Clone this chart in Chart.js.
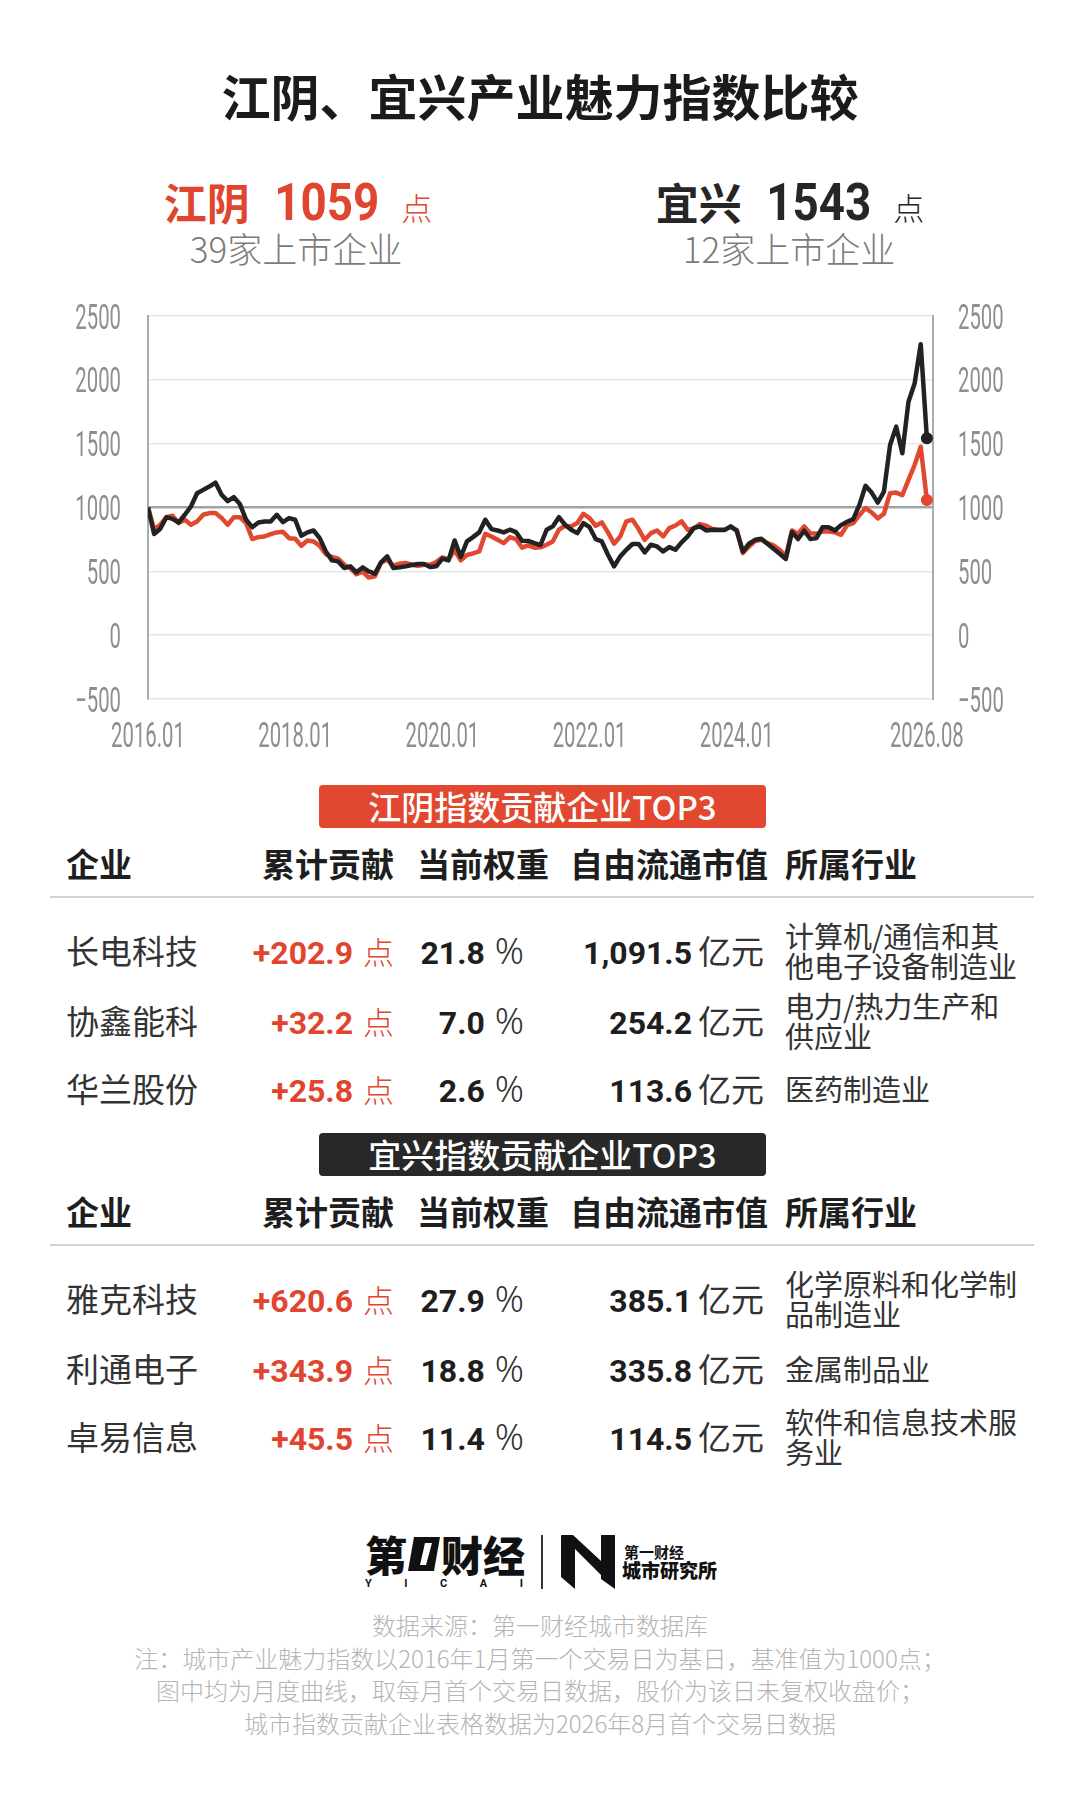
<!DOCTYPE html>
<html lang="zh-CN">
<head>
<meta charset="utf-8">
<title>江阴、宜兴产业魅力指数比较</title>
<script src="https://cdn.jsdelivr.net/npm/chart.js@4.4.1/dist/chart.umd.min.js"></script>
<style>
    html, body { margin: 0; padding: 0; background: #fff; }
    body {
        width: 1080px; height: 1816px; position: relative; overflow: hidden;
        font-family: "Noto Sans CJK SC", "Noto Sans", sans-serif; color: #222;
    }
    .abs { position: absolute; white-space: nowrap; }
    #title { left: 0; width: 1080px; top: 68px; text-align: center; font-size: 49px; line-height: 54px; font-weight: 700; color: #1b1b1b; }
    .head { display: flex; justify-content: center; align-items: baseline; top: 170px; height: 56px; }
    .head .city { font-size: 43px; font-weight: 700; }
    .head .big { display: inline-block; transform: scaleX(0.88); font-family: Roboto, sans-serif; font-size: 52px; font-weight: 700; margin: 0 15px 0 17px; }
    .head .pt { font-size: 31px; font-weight: 300; }
    .sub { top: 228px; font-size: 35px; line-height: 40px; font-weight: 300; color: #7b7b7b; text-align: center; }
    #chartBox { position: absolute; left: 0; top: 290px; width: 1080px; height: 470px; }
    .banner { left: 319px; width: 447px; height: 43px; border-radius: 4px; color: #fff; text-align: center; font-size: 33px; line-height: 43px; font-weight: 500; }
    .th { font-size: 33px; line-height: 40px; font-weight: 700; color: #1e1e1e; }
    .sep { left: 50px; width: 984px; height: 2px; background: #d2d2d2; }
    .cell { font-size: 33px; line-height: 40px; color: #333; }
    .num { font-family: Roboto, "Liberation Sans", sans-serif; font-weight: 700; font-size: 32px; color: #1e1e1e; }
    .red { color: #e0452f; }
    .unit { font-weight: 300; font-size: 31px; margin-left: 10px; }
    .pct { font-family: "Noto Sans", sans-serif; font-weight: 300; font-size: 36px; margin-left: 10px; color: #333; }
    .yi { font-size: 33px; margin-left: 6px; color: #333; }
    .ind { font-size: 29px; line-height: 30px; color: #333; white-space: nowrap; }
    .foot { left: 0; width: 1080px; text-align: center; font-size: 24px; line-height: 30px; font-weight: 300; color: #b5b5b5; }
</style>
</head>
<body>

<div id="title" class="abs">江阴、宜兴产业魅力指数比较</div>

<div class="abs head" style="left:0; width:596px; color:#e0452f;">
    <span class="city">江阴</span><span class="big">1059</span><span class="pt">点</span>
</div>
<div class="abs sub" style="left:0; width:592px;">39家上市企业</div>

<div class="abs head" style="left:500px; width:580px; color:#262626;">
    <span class="city">宜兴</span><span class="big">1543</span><span class="pt">点</span>
</div>
<div class="abs sub" style="left:500px; width:578px;">12家上市企业</div>

<div id="chartBox"><canvas id="indexChart" width="1080" height="470"></canvas></div>

<div id="tables"></div>

<!-- logos -->
<div class="abs" style="left:365px; top:1532px; height:44px; display:flex; align-items:center; font-size:42px; font-weight:900; color:#111; line-height:44px;">
    <span>第</span>
    <svg width="32" height="38" viewBox="0 0 32 38" style="margin:0 1px;"><polygon points="6,2 32,2 26,36 0,36" fill="#111"/><polygon points="17,8 24,8 18,30 12,30" fill="#fff"/></svg>
    <span>财经</span>
</div>
<div class="abs" style="left:365px; top:1578px; width:158px; display:flex; justify-content:space-between; font-family:Roboto, sans-serif; font-size:11px; font-weight:700; color:#111; line-height:12px;">
    <span>Y</span><span>I</span><span>C</span><span>A</span><span>I</span>
</div>
<div class="abs" style="left:541px; top:1535px; width:2px; height:54px; background:#333;"></div>
<svg class="abs" style="left:561px; top:1535px;" width="54" height="54" viewBox="0 0 54 54">
    <polygon points="0,0 14,10 14,54 0,42" fill="#111"/>
    <polygon points="0,0 12,0 40,26 40,40" fill="#111"/>
    <polygon points="40,0 54,0 54,54 40,44" fill="#111"/>
</svg>
<div class="abs" style="left:624px; top:1543px; font-size:15px; line-height:18px; font-weight:700; color:#111;">第一财经</div>
<div class="abs" style="left:622px; top:1559px; font-size:19px; line-height:22px; font-weight:900; color:#111;">城市研究所</div>

<div class="abs foot" style="top:1610px;">数据来源：第一财经城市数据库</div>
<div class="abs foot" style="top:1643px;">注：城市产业魅力指数以2016年1月第一个交易日为基日，基准值为1000点；</div>
<div class="abs foot" style="top:1675px;">图中均为月度曲线，取每月首个交易日数据，股价为该日未复权收盘价；</div>
<div class="abs foot" style="top:1708px;">城市指数贡献企业表格数据为2026年8月首个交易日数据</div>

<script>
// Monthly index, 2016.01 .. 2026.08 (first trading day of each month)
const jiangyinIndex = [
    1000, 830, 865, 924, 935, 878, 904, 865, 891, 943, 956, 956,
    917, 865, 924, 924, 878, 753, 768, 773, 792, 805, 810, 760,
    755, 700, 742, 734, 700, 635, 612, 599, 552, 523, 477, 497,
    451, 461, 570, 591, 544, 560, 565, 552, 544, 552, 552, 573,
    609, 596, 664, 586, 628, 641, 656, 794, 773, 747, 721, 768,
    753, 686, 704, 685, 688, 708, 734, 826, 857, 852, 878, 951,
    917, 857, 883, 805, 716, 773, 891, 904, 831, 747, 799, 820,
    773, 839, 859, 891, 826, 836, 870, 857, 831, 826, 826, 847,
    823, 643, 695, 737, 747, 721, 703, 669, 617, 820, 794, 852,
    799, 794, 812, 812, 805, 786, 862, 878, 940, 995, 961, 914,
    951, 1112, 1117, 1097, 1216, 1333, 1476, 1059
];
const yixingIndex = [
    1000, 792, 833, 924, 911, 883, 943, 1008, 1112, 1138, 1164, 1195,
    1100, 1050, 1081, 1025, 904, 846, 883, 891, 891, 943, 885, 917,
    904, 779, 805, 820, 760, 656, 586, 578, 526, 539, 492, 531,
    500, 482, 570, 617, 526, 531, 539, 550, 557, 557, 534, 539,
    599, 586, 742, 612, 734, 768, 805, 904, 831, 820, 805, 826,
    807, 740, 738, 721, 706, 826, 852, 924, 865, 826, 799, 878,
    846, 753, 734, 630, 539, 617, 669, 714, 714, 648, 708, 695,
    656, 690, 669, 727, 773, 839, 852, 820, 826, 823, 823, 852,
    818, 655, 716, 747, 755, 716, 677, 638, 597, 808, 753, 818,
    753, 760, 846, 846, 820, 862, 888, 909, 1021, 1170, 1117, 1039,
    1125, 1490, 1633, 1425, 1828, 1971, 2279, 1543
];

// Axis ticks
const xTickIndex = [0, 24, 48, 72, 96, 127];
const xTickLabels = ['2016.01', '2018.01', '2020.01', '2022.01', '2024.01', '2026.08'];
const yTickValues = [-500, 0, 500, 1000, 1500, 2000, 2500];
const yTickLabels = ['\u2212500', '0', '500', '1000', '1500', '2000', '2500'];

// Contribution tables
const jyCompanies = ['长电科技', '协鑫能科', '华兰股份'];
const jyContrib = ['+202.9', '+32.2', '+25.8'];
const jyWeight = ['21.8', '7.0', '2.6'];
const jyCap = ['1,091.5', '254.2', '113.6'];
const jyIndustry = [['计算机/通信和其', '他电子设备制造业'], ['电力/热力生产和', '供应业'], ['医药制造业']];

const yxCompanies = ['雅克科技', '利通电子', '卓易信息'];
const yxContrib = ['+620.6', '+343.9', '+45.5'];
const yxWeight = ['27.9', '18.8', '11.4'];
const yxCap = ['385.1', '335.8', '114.5'];
const yxIndustry = [['化学原料和化学制', '品制造业'], ['金属制品业'], ['软件和信息技术服', '务业']];

const RED = '#e2472f';
const BLACK = '#222222';
const TICK_COLOR = '#8e8e8e';
const TICK_SQUEEZE = 0.58;

document.addEventListener('DOMContentLoaded', function() {
    buildTable(785, '江阴指数贡献企业TOP3', '#e2472f', jyCompanies, jyContrib, jyWeight, jyCap, jyIndustry);
    buildTable(1133, '宜兴指数贡献企业TOP3', '#282828', yxCompanies, yxContrib, yxWeight, yxCap, yxIndustry);
    initializeIndexChart();
});

// Tables under the chart
function buildTable(top, title, color, names, contrib, weight, cap, industry) {
    const box = document.getElementById('tables');
    let html = '';
    html += `<div class="abs banner" style="top:${top}px; background:${color};">${title}</div>`;

    const hy = top + 78 - 20;
    html += `<div class="abs th" style="left:66px; top:${hy}px;">企业</div>`;
    html += `<div class="abs th" style="right:${1080 - 394}px; top:${hy}px;">累计贡献</div>`;
    html += `<div class="abs th" style="left:417px; top:${hy}px;">当前权重</div>`;
    html += `<div class="abs th" style="right:${1080 - 768}px; top:${hy}px;">自由流通市值</div>`;
    html += `<div class="abs th" style="left:785px; top:${hy}px;">所属行业</div>`;
    html += `<div class="abs sep" style="top:${top + 111}px;"></div>`;

    const rowOffsets = [165, 235, 303];
    names.forEach((name, i) => {
        const cy = top + rowOffsets[i];
        const ry = cy - 20;
        html += `<div class="abs cell" style="left:66px; top:${ry}px;">${name}</div>`;
        html += `<div class="abs cell" style="right:${1080 - 394}px; top:${ry}px;"><span class="num red">${contrib[i]}</span><span class="unit red">点</span></div>`;
        html += `<div class="abs cell" style="right:${1080 - 524}px; top:${ry}px;"><span class="num">${weight[i]}</span><span class="pct">%</span></div>`;
        html += `<div class="abs cell" style="right:${1080 - 764}px; top:${ry}px;"><span class="num">${cap[i]}</span><span class="yi">亿元</span></div>`;
        const lines = industry[i];
        const iy = cy - lines.length * 15;
        html += `<div class="abs ind" style="left:785px; top:${iy}px;">${lines.join('<br>')}</div>`;
    });
    box.insertAdjacentHTML('beforeend', html);
}

// Draw condensed tick text
function drawNarrow(ctx, text, x, y, align) {
    ctx.save();
    ctx.translate(x, y);
    ctx.scale(TICK_SQUEEZE, 1);
    ctx.textAlign = align;
    ctx.fillText(text, 0, 0);
    ctx.restore();
}

const tickLabelPlugin = {
    id: 'tickLabels',
    afterDraw(chart) {
        const ctx = chart.ctx;
        const yl = chart.scales.y;
        const yr = chart.scales.y1;
        const xs = chart.scales.x;
        ctx.save();
        ctx.fillStyle = TICK_COLOR;
        ctx.font = '35px Roboto';
        ctx.textBaseline = 'alphabetic';
        yTickValues.forEach((v, k) => {
            const py = yl.getPixelForValue(v) + 12.5;
            drawNarrow(ctx, yTickLabels[k], yl.right - 27, py, 'right');
            drawNarrow(ctx, yTickLabels[k], yr.left + 25, py, 'left');
        });
        xTickIndex.forEach((v, k) => {
            drawNarrow(ctx, xTickLabels[k], xs.getPixelForValue(v), yl.bottom + 48, 'center');
        });
        ctx.restore();
    }
};

function toPoints(values) {
    return values.map((v, i) => ({ x: i, y: v }));
}

// Main line chart
function initializeIndexChart() {
    const ctx = document.getElementById('indexChart').getContext('2d');
    const lastIndex = jiangyinIndex.length - 1;
    const endDot = c => (c.dataIndex === lastIndex ? 6 : 0);

    new Chart(ctx, {
        type: 'line',
        data: {
            datasets: [
                {
                    label: '宜兴',
                    data: toPoints(yixingIndex),
                    borderColor: BLACK,
                    backgroundColor: BLACK,
                    borderWidth: 4.5,
                    pointRadius: endDot,
                    pointBorderWidth: 0,
                    pointBackgroundColor: BLACK,
                    tension: 0,
                    borderJoinStyle: 'round',
                    order: 0,
                    yAxisID: 'y'
                },
                {
                    label: '江阴',
                    data: toPoints(jiangyinIndex),
                    borderColor: RED,
                    backgroundColor: RED,
                    borderWidth: 4.5,
                    pointRadius: endDot,
                    pointBorderWidth: 0,
                    pointBackgroundColor: RED,
                    tension: 0,
                    borderJoinStyle: 'round',
                    order: 1,
                    yAxisID: 'y'
                }
            ]
        },
        options: {
            responsive: false,
            animation: false,
            devicePixelRatio: 1,
            layout: { padding: { top: 26, left: 0, right: 0, bottom: 0 } },
            plugins: {
                legend: { display: false },
                tooltip: { enabled: false }
            },
            scales: {
                x: {
                    type: 'linear',
                    min: 0,
                    max: 128,
                    grid: { display: false },
                    border: { display: false },
                    ticks: { display: false },
                    afterFit: scale => { scale.height = 61; }
                },
                y: {
                    position: 'left',
                    min: -500,
                    max: 2500,
                    ticks: { display: false, stepSize: 500 },
                    grid: {
                        drawTicks: false,
                        color: c => (c.tick && c.tick.value === 1000 ? '#9ba5a9' : '#e3e7e9'),
                        lineWidth: c => (c.tick && c.tick.value === 1000 ? 2.5 : 1.5)
                    },
                    border: { display: true, color: '#a5aeb2', width: 2 },
                    afterFit: scale => { scale.width = 148; }
                },
                y1: {
                    position: 'right',
                    min: -500,
                    max: 2500,
                    ticks: { display: false, stepSize: 500 },
                    grid: { display: false, drawTicks: false },
                    border: { display: true, color: '#a5aeb2', width: 2 },
                    afterFit: scale => { scale.width = 147; }
                }
            }
        },
        plugins: [tickLabelPlugin]
    });
}
</script>
</body>
</html>
